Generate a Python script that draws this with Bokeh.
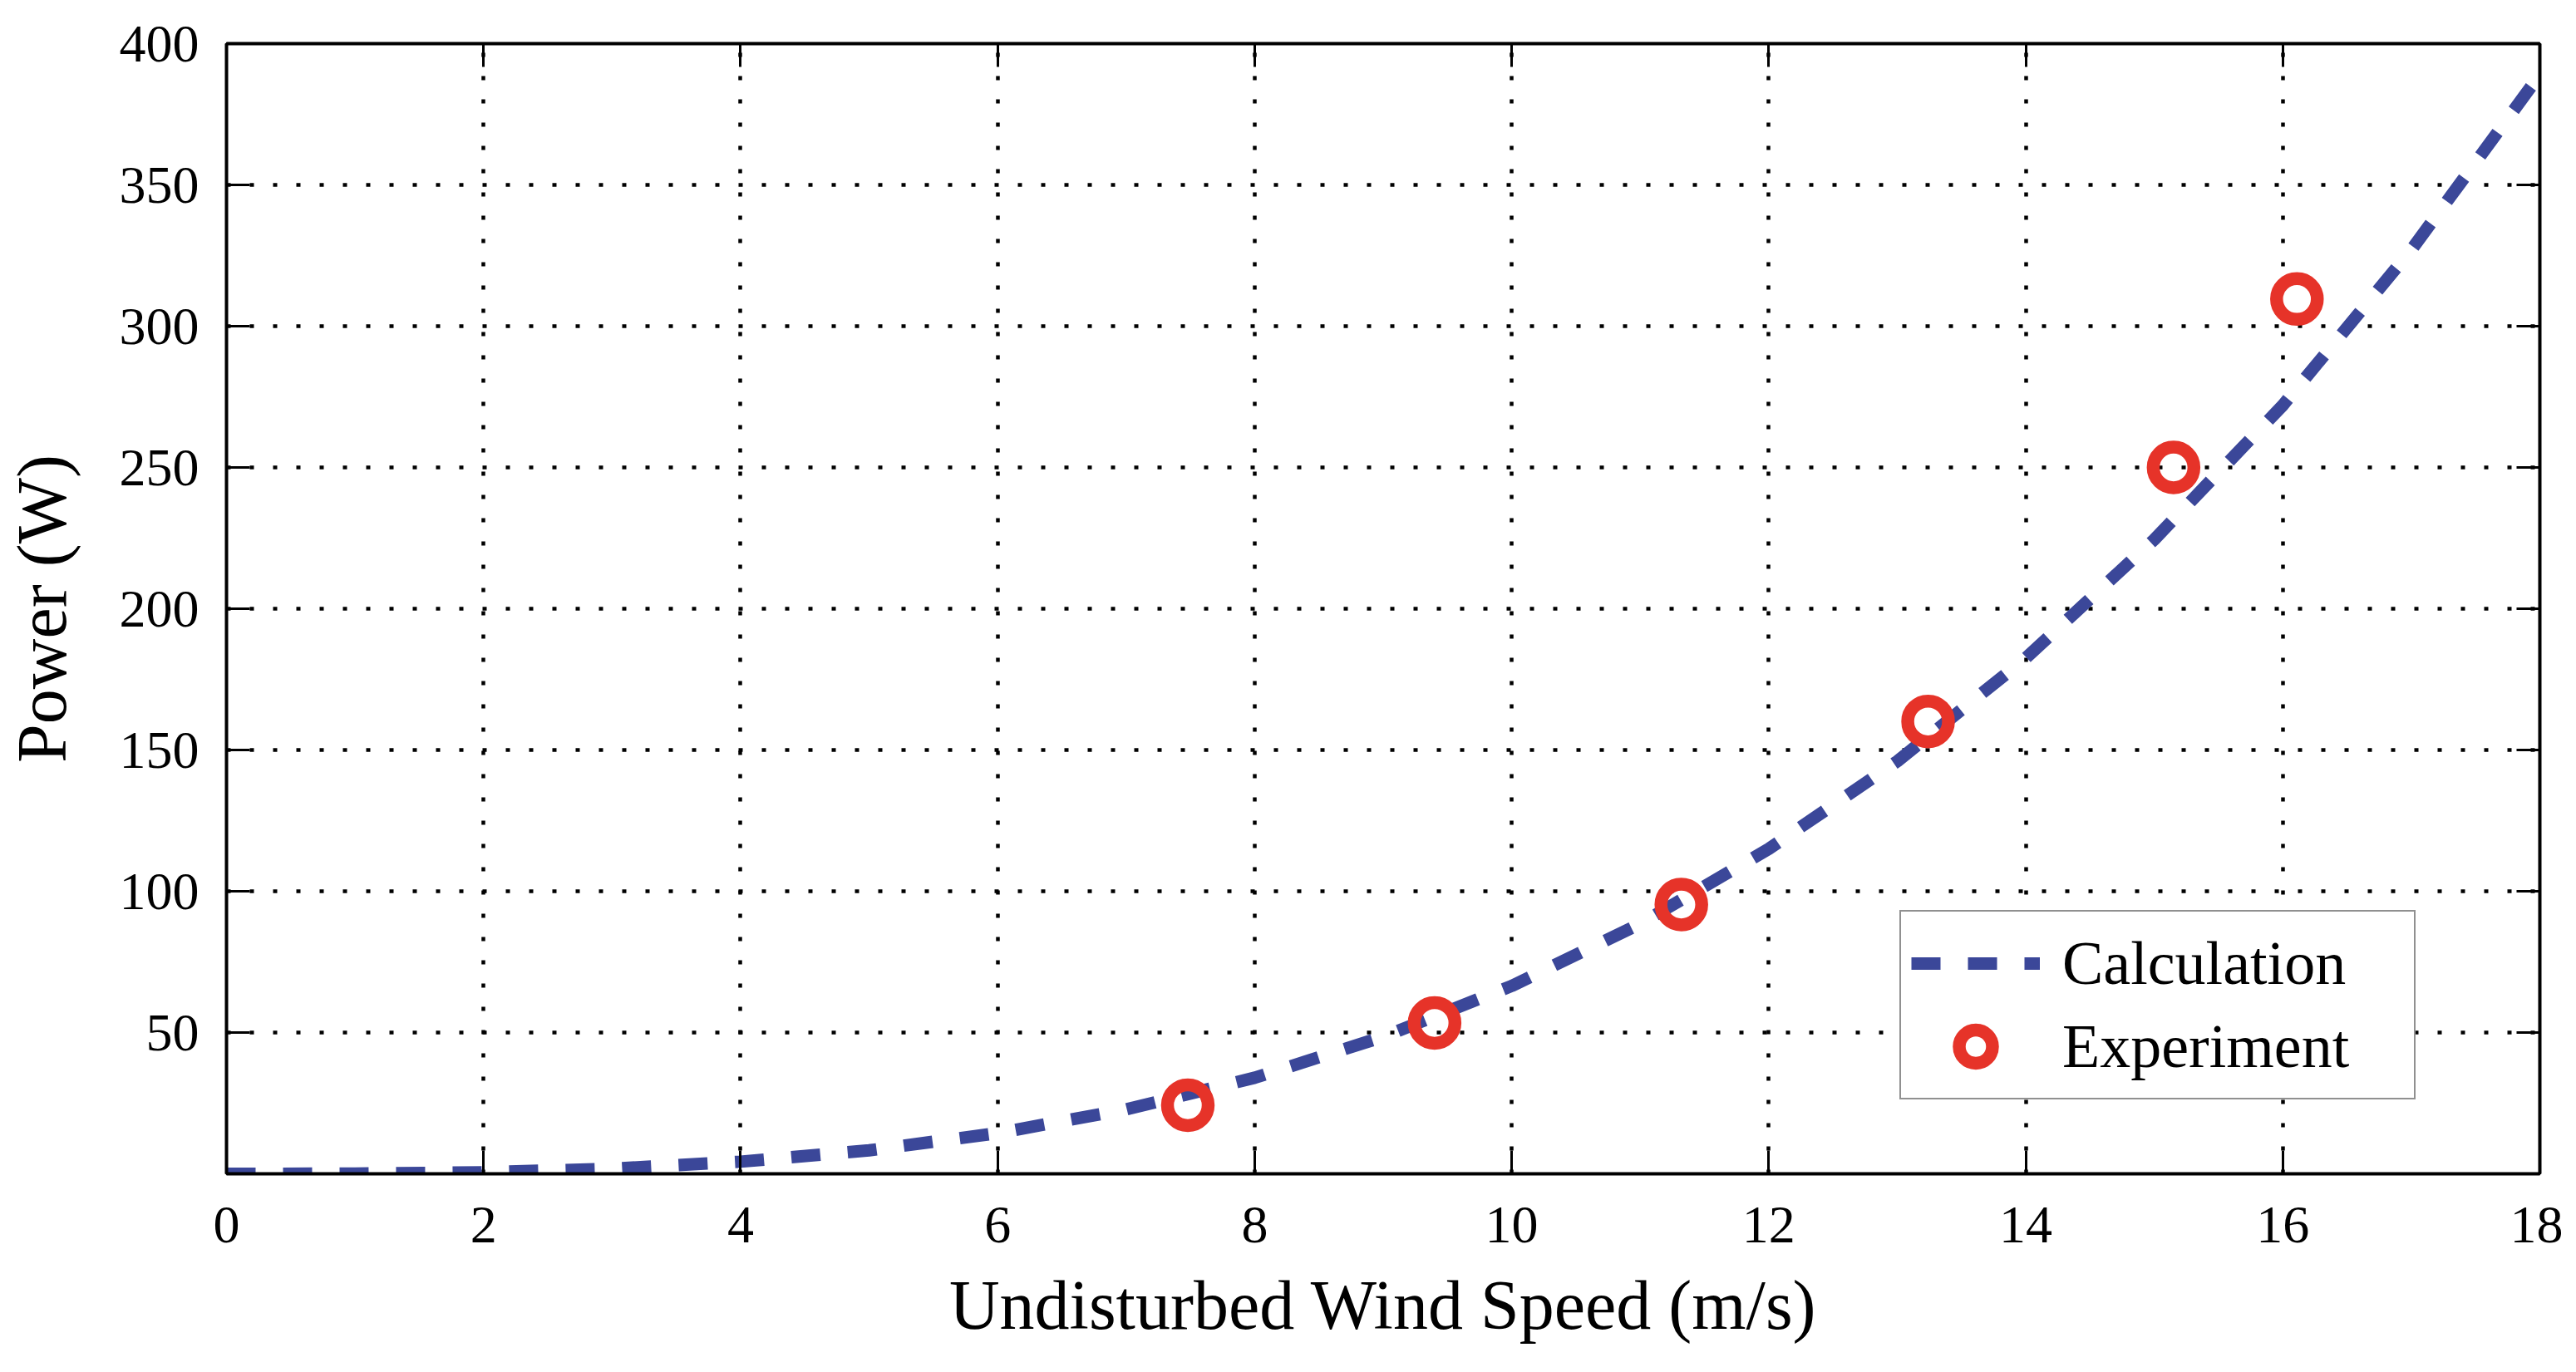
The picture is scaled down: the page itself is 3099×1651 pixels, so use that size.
from bokeh.plotting import figure
from bokeh.models import (LinearAxis, FixedTicker, CustomJSTickFormatter, Legend, LegendItem)
from bokeh.embed import file_html
from bokeh.resources import INLINE

# ---- data ----
wind_speed = [0, 1, 2, 3, 4, 5, 6, 7, 8, 9, 10, 11, 12, 13, 14, 15, 16, 17, 18]
calc_power = [0.0, 0.07, 0.53, 1.8, 4.3, 8.3, 14.4, 22.8, 34.0, 48.5, 66.5,
              88.5, 115.0, 146.0, 182.5, 224.5, 272.0, 327.0, 389.0]
exp_speed = [7.48, 9.40, 11.32, 13.24, 15.15, 16.11]
exp_power = [24.3, 53.4, 95.3, 160.1, 250.0, 309.6]

x_ticks = [0, 2, 4, 6, 8, 10, 12, 14, 16, 18]
y_ticks = [50, 100, 150, 200, 250, 300, 350, 400]

x_title = "Undisturbed Wind Speed (m/s)"
y_title = "Power (W)"

FONT = "Liberation Serif"
BLUE = "#3B4799"
RED = "#E63329"

p = figure(width=3083, height=1635, x_range=(0, 18), y_range=(0, 400),
           output_backend="svg", toolbar_location=None,
           min_border_left=272, min_border_right=28,
           min_border_top=52, min_border_bottom=223)
p.background_fill_color = "white"
p.border_fill_color = "white"
p.outline_line_color = "black"
p.outline_line_width = 3

xt = FixedTicker(ticks=x_ticks)
yt = FixedTicker(ticks=y_ticks)

def style_axis(ax):
    ax.axis_line_width = 4
    ax.axis_line_color = "black"
    ax.major_tick_in = 28
    ax.major_tick_out = 0
    ax.major_tick_line_width = 3
    ax.major_tick_line_color = "black"
    ax.minor_tick_line_color = None
    ax.major_label_text_font = FONT
    ax.major_label_text_font_size = "64px"
    ax.major_label_text_color = "black"
    ax.axis_label_text_font = FONT
    ax.axis_label_text_font_style = "normal"
    ax.axis_label_text_font_size = "84px"
    ax.axis_label_text_color = "black"

p.xaxis.ticker = xt
p.yaxis.ticker = yt
style_axis(p.xaxis[0])
style_axis(p.yaxis[0])
p.xaxis.axis_label = x_title
p.yaxis.axis_label = y_title
p.xaxis.major_label_standoff = 40
p.yaxis.major_label_standoff = 33
p.xaxis.axis_label_standoff = 26
p.yaxis.axis_label_standoff = 44

empty = CustomJSTickFormatter(code="return ''")
top = LinearAxis(ticker=xt, formatter=empty, major_label_standoff=0)
right = LinearAxis(ticker=yt, formatter=empty, major_label_standoff=0)
style_axis(top)
style_axis(right)
top.major_label_text_font_size = "8px"
right.major_label_text_font_size = "8px"
p.add_layout(top, "above")
p.add_layout(right, "right")

p.xgrid.ticker = xt
p.ygrid.ticker = yt
for g in (p.xgrid[0], p.ygrid[0]):
    g.grid_line_color = "black"
    g.grid_line_width = 4.5
    g.grid_line_dash = "5 23"

calc = p.line(wind_speed, calc_power, line_color=BLUE, line_width=15,
              line_dash="35 33", line_cap="butt")
expt = p.scatter(exp_speed, exp_power, marker="circle", size=49,
                 fill_color=None, line_color=RED, line_width=15.5)

legend = Legend(items=[LegendItem(label="Calculation", renderers=[calc]),
                       LegendItem(label="Experiment", renderers=[expt])],
                location=(2013, 89))
legend.label_text_font = FONT
legend.label_text_font_size = "74px"
legend.label_text_color = "black"
legend.glyph_width = 155
legend.glyph_height = 100
legend.label_height = 100
legend.label_width = 411
legend.label_standoff = 27
legend.spacing = 0
legend.padding = 12
legend.margin = 0
legend.border_line_color = "#222222"
legend.border_line_width = 2.5
legend.background_fill_color = "white"
legend.background_fill_alpha = 1.0
p.add_layout(legend)

open("out.html", "w").write(file_html(p, INLINE))
